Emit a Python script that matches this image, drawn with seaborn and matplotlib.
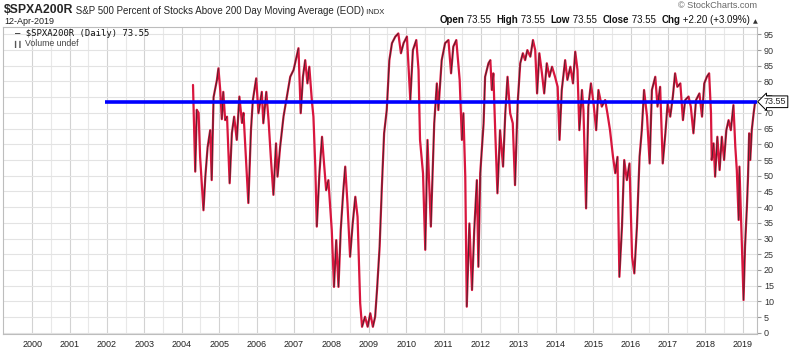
import numpy as np
import pandas as pd
import matplotlib
matplotlib.use('Agg')
import matplotlib.pyplot as plt
from matplotlib.collections import LineCollection
import seaborn as sns

#---------------------------------------------------
# $SPXA200R daily (decimal year, percent)
years=[2004.30, 2004.36, 2004.40, 2004.45, 2004.49, 2004.58, 2004.63, 2004.69, 2004.76, 2004.80,
	2004.85, 2004.94, 2004.98, 2005.03, 2005.07, 2005.11, 2005.16, 2005.21, 2005.28, 2005.34,
	2005.40, 2005.47, 2005.54, 2005.61, 2005.65, 2005.70, 2005.78, 2005.85, 2005.90, 2005.99,
	2006.05, 2006.14, 2006.18, 2006.26, 2006.32, 2006.38, 2006.45, 2006.52, 2006.56, 2006.63,
	2006.72, 2006.81, 2006.90, 2006.99, 2007.06, 2007.12, 2007.18, 2007.24, 2007.30, 2007.36,
	2007.41, 2007.48, 2007.52, 2007.57, 2007.61, 2007.68, 2007.75, 2007.79, 2007.86, 2007.92,
	2008.01, 2008.07, 2008.13, 2008.19, 2008.25, 2008.32, 2008.37, 2008.43, 2008.50, 2008.57,
	2008.64, 2008.70, 2008.77, 2008.82, 2008.90, 2008.97, 2009.04, 2009.11, 2009.17, 2009.22,
	2009.29, 2009.35, 2009.41, 2009.48, 2009.55, 2009.62, 2009.71, 2009.79, 2009.86, 2009.93,
	2010.02, 2010.11, 2010.18, 2010.27, 2010.33, 2010.37, 2010.45, 2010.51, 2010.57, 2010.66,
	2010.75, 2010.82, 2010.86, 2010.95, 2011.04, 2011.13, 2011.20, 2011.26, 2011.34, 2011.43,
	2011.49, 2011.53, 2011.58, 2011.62, 2011.69, 2011.76, 2011.82, 2011.89, 2011.93, 2011.98,
	2012.07, 2012.11, 2012.20, 2012.25, 2012.29, 2012.33, 2012.38, 2012.44, 2012.51, 2012.59,
	2012.65, 2012.71, 2012.78, 2012.85, 2012.91, 2012.98, 2013.05, 2013.12, 2013.18, 2013.24,
	2013.32, 2013.39, 2013.45, 2013.50, 2013.56, 2013.63, 2013.69, 2013.76, 2013.83, 2013.90,
	2013.98, 2014.05, 2014.10, 2014.16, 2014.25, 2014.31, 2014.39, 2014.46, 2014.52, 2014.58,
	2014.63, 2014.70, 2014.74, 2014.81, 2014.87, 2014.94, 2015.01, 2015.08, 2015.14, 2015.23,
	2015.32, 2015.38, 2015.45, 2015.53, 2015.59, 2015.65, 2015.70, 2015.77, 2015.83, 2015.90,
	2015.97, 2016.04, 2016.10, 2016.17, 2016.24, 2016.30, 2016.36, 2016.44, 2016.51, 2016.57,
	2016.66, 2016.72, 2016.79, 2016.86, 2016.93, 2016.99, 2017.06, 2017.13, 2017.19, 2017.25,
	2017.33, 2017.40, 2017.46, 2017.55, 2017.61, 2017.68, 2017.75, 2017.84, 2017.91, 2017.97,
	2018.04, 2018.10, 2018.15, 2018.17, 2018.22, 2018.26, 2018.32, 2018.38, 2018.44, 2018.50,
	2018.56, 2018.62, 2018.68, 2018.75, 2018.80, 2018.84, 2018.89, 2018.91, 2018.95, 2018.98,
	2019.02, 2019.06, 2019.11, 2019.14, 2019.17, 2019.20, 2019.24, 2019.29, 2019.33]
pct=[78.9, 51.3, 71.0, 70.0, 56.0, 39.0, 49.7, 59.0, 64.5, 48.6,
	75.0, 80.5, 84.2, 77.0, 68.0, 76.7, 67.7, 68.8, 47.6, 63.6,
	68.8, 61.4, 75.2, 66.8, 70.0, 59.2, 41.3, 64.5, 74.0, 81.0,
	69.9, 76.7, 66.7, 76.7, 67.7, 56.0, 43.9, 60.3, 49.7, 59.2,
	68.8, 75.2, 81.5, 83.7, 87.4, 90.6, 69.9, 81.5, 86.8, 79.4,
	84.7, 73.6, 68.8, 52.9, 33.8, 50.8, 62.4, 56.0, 45.4, 48.6,
	32.7, 14.6, 29.5, 14.6, 32.7, 45.4, 52.9, 41.2, 24.2, 34.8,
	43.3, 36.9, 9.4, 1.9, 5.1, 1.9, 6.2, 1.9, 5.1, 13.6,
	27.4, 46.5, 63.5, 70.9, 86.8, 92.2, 94.3, 95.3, 89.0, 92.2,
	94.3, 74.1, 90.0, 93.2, 83.7, 61.4, 50.8, 26.4, 61.4, 33.8,
	66.7, 79.4, 70.9, 86.8, 92.2, 93.2, 82.6, 91.1, 93.2, 80.5,
	61.4, 69.9, 49.7, 8.3, 34.8, 13.6, 32.7, 48.6, 21.0, 50.8,
	66.7, 81.5, 85.8, 86.8, 77.3, 82.6, 64.5, 44.4, 64.5, 52.9,
	69.9, 81.5, 69.9, 66.7, 47.0, 73.0, 85.8, 89.0, 86.8, 90.0,
	87.9, 93.2, 90.0, 76.2, 89.0, 82.6, 76.2, 85.8, 81.5, 84.7,
	81.5, 78.3, 61.4, 77.3, 86.8, 80.5, 84.7, 79.4, 89.5, 83.7,
	64.5, 77.3, 70.9, 39.6, 72.0, 79.4, 73.0, 64.5, 77.3, 72.0,
	74.1, 69.9, 64.5, 56.0, 50.8, 56.0, 17.8, 33.8, 55.0, 48.6,
	53.9, 24.2, 18.9, 33.8, 56.0, 64.5, 77.3, 68.8, 53.9, 77.3,
	81.5, 72.0, 78.3, 53.9, 63.5, 73.0, 68.8, 75.2, 82.6, 78.3,
	79.4, 67.7, 74.1, 75.2, 72.0, 63.5, 74.1, 76.2, 68.8, 79.4,
	81.5, 82.6, 69.9, 55.0, 60.3, 49.7, 62.4, 51.8, 62.4, 55.0,
	64.5, 67.7, 64.5, 72.5, 59.2, 51.8, 35.9, 52.9, 38.0, 26.3,
	10.4, 27.4, 40.1, 49.7, 63.5, 55.0, 64.5, 69.9, 73.55]
last_close=73.55
hline_start=2001.95
year_ticks=list(range(2000, 2020))
pct_ticks=list(range(0, 100, 5))

c_red='#d8163e'
c_blue='#0000ff'

#---------------------------------------------------
sns.set_style('white')
plt.rcParams['font.family']=['Liberation Sans', 'DejaVu Sans']

df=pd.DataFrame({'year': years, 'pct': pct})

fig=plt.figure(figsize=(8, 3.53), dpi=100)
ax=fig.add_axes([0.00375, 0.0538, 0.9425, 0.8697])
xlim=(1999.22, 2019.38)

#line, dark core on up moves
sns.lineplot(data=df, x='year', y='pct', color=c_red, lw=1.6, ax=ax, estimator=None, sort=False)
pts=df[['year', 'pct']].values
seg=np.stack([pts[:-1], pts[1:]], axis=1)
up=np.diff(df['pct'].values)>0
ax.add_collection(LineCollection(seg[up], colors='#2a2a2a', linewidths=0.55, zorder=3))

#level line
ax.hlines(last_close, hline_start, xlim[1], color=c_blue, lw=2.6, zorder=4)

#axes
ax.set_xlim(*xlim)
ax.set_ylim(-0.4, 97.35)
ax.set_xlabel('')
ax.set_ylabel('')
ax.set_xticks(year_ticks)
ax.set_xticks(np.array(year_ticks[:-1])+0.5, minor=True)
ax.set_xticklabels([str(y) for y in year_ticks])
ax.set_yticks(pct_ticks)
ax.yaxis.tick_right()
ax.tick_params(axis='x', which='both', length=0, labelsize=6.5, pad=4, labelcolor='#222222')
ax.tick_params(axis='y', length=3, color='#999999', labelsize=6.5, pad=2, labelcolor='#333333')
ax.grid(axis='x', which='major', color='#d2d2d2', lw=0.8)
ax.grid(axis='x', which='minor', color='#e8e8e8', lw=0.8)
ax.grid(axis='y', which='major', color='#e3e3e3', lw=0.8)
for sp in ax.spines.values():
	sp.set_color('#bdbdbd')
	sp.set_linewidth(0.8)

#price tag
ax.annotate(f'{last_close:.2f}', xy=(1.0, last_close), xycoords=('axes fraction', 'data'),
	xytext=(5, 0), textcoords='offset points', ha='left', va='center', fontsize=6.5, zorder=6,
	bbox=dict(boxstyle='larrow,pad=0.15', fc='white', ec='black', lw=0.7), annotation_clip=False)

#legend block
ax.text(0.016, 0.993, '\u2014 $SPXA200R (Daily) 73.55', transform=ax.transAxes, ha='left', va='top',
	fontsize=6.4, family='DejaVu Sans Mono', color='#111111')
ax.text(0.015, 0.956, '\u258e\u258e', transform=ax.transAxes, ha='left', va='top', fontsize=5,
	family='DejaVu Sans', color='#555555')
ax.text(0.029, 0.962, 'Volume undef', transform=ax.transAxes, ha='left', va='top', fontsize=6.3,
	color='#444444')

#header
t0=fig.text(0.005, 0.99, '$SPXA200R', ha='left', va='top', fontsize=8.8, weight='bold')
t1=plt.annotate(' S&P 500 Percent of Stocks Above 200 Day Moving Average (EOD)', xy=(1, 0), xycoords=t0,
	va='bottom', fontsize=7)
plt.annotate(' INDX', xy=(1, 0), xycoords=t1, va='bottom', fontsize=5.5)
fig.text(0.005, 0.953, '12-Apr-2019', ha='left', va='top', fontsize=6.5, color='#222222')
fig.text(0.947, 0.996, '\u00a9 StockCharts.com', ha='right', va='top', fontsize=6.6, color='#666666')

#ohlc strip
parts=[('Open', 'bold'), (' 73.55  ', 'normal'), ('High', 'bold'), (' 73.55  ', 'normal'),
	('Low', 'bold'), (' 73.55  ', 'normal'), ('Close', 'bold'), (' 73.55  ', 'normal'),
	('Chg', 'bold'), (' +2.20 (+3.09%) ', 'normal')]
prev=fig.text(0.549, 0.928, '', ha='left', va='top', fontsize=7)
for s, w in parts:
	prev=plt.annotate(s, xy=(1, 0), xycoords=prev, va='bottom', fontsize=7, weight=w, color='#111111')
plt.annotate('\u25b2', xy=(1, 0.1), xycoords=prev, va='bottom', fontsize=4.5, family='DejaVu Sans', color='#333333')

#save
plt.savefig('out.png', dpi=100)
plt.close()
